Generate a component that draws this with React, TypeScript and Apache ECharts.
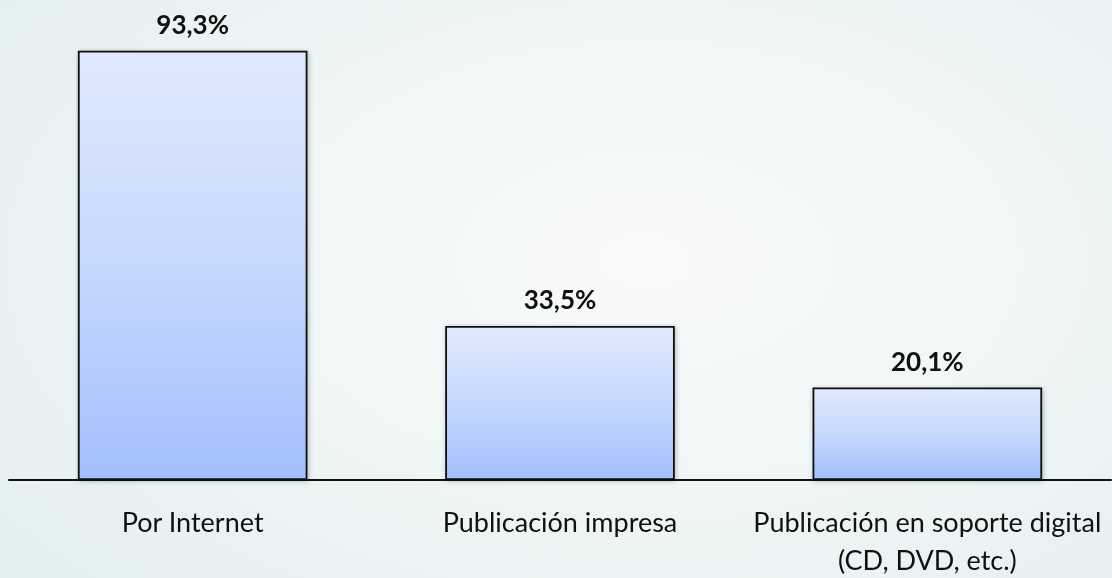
import React, { useEffect, useRef } from "react";
import * as echarts from "echarts";

const categories: string[] = [
  "Por Internet",
  "Publicación impresa",
  "Publicación en soporte digital\n(CD, DVD, etc.)",
];
const values: number[] = [93.3, 33.5, 20.1];

const FONT = "Lato";

export default function App() {
  const ref = useRef<HTMLDivElement>(null);

  useEffect(() => {
    if (!ref.current) return;
    const chart = echarts.init(ref.current, undefined, { renderer: "svg" });
    chart.setOption({
      animation: false,
      backgroundColor: "transparent",
      grid: { left: 9, right: 1, top: 20, bottom: 92, containLabel: false },
      xAxis: {
        type: "category",
        data: categories,
        boundaryGap: true,
        axisLine: { show: true, lineStyle: { color: "#111", width: 2 } },
        axisTick: { show: false },
        axisLabel: {
          interval: 0,
          margin: 22,
          color: "#111",
          fontFamily: FONT,
          fontSize: 27,
          lineHeight: 38,
        },
      },
      yAxis: {
        type: "value",
        min: 0,
        max: 100,
        show: false,
        splitLine: { show: false },
      },
      series: [
        {
          type: "bar",
          data: values,
          barWidth: "62.5%",
          itemStyle: {
            color: new echarts.graphic.LinearGradient(0, 0, 0, 1, [
              { offset: 0, color: "#e0e9fd" },
              { offset: 0.5, color: "#c6d8fd" },
              { offset: 1, color: "#a2bffc" },
            ]),
            borderColor: "#111",
            borderWidth: 1.8,
            shadowColor: "rgba(0,0,0,0.28)",
            shadowBlur: 5,
            shadowOffsetX: 1,
            shadowOffsetY: 1,
          },
          label: {
            show: true,
            position: "top",
            distance: 14,
            color: "#111",
            fontFamily: FONT,
            fontWeight: "bold",
            fontSize: 26,
            formatter: (p: any) =>
              Number(p.value).toFixed(1).replace(".", ",") + "%",
          },
        },
      ],
    });
    return () => chart.dispose();
  }, []);

  return (
    <div
      style={{
        position: "fixed",
        left: 0,
        top: 0,
        width: 1112,
        height: 578,
        background:
          "radial-gradient(ellipse 75% 85% at 58% 45%, #f9fafa 0%, #f1f6f6 45%, #e3eff0 100%)",
      }}
    >
      <div ref={ref} style={{ width: 1112, height: 578 }} />
    </div>
  );
}
